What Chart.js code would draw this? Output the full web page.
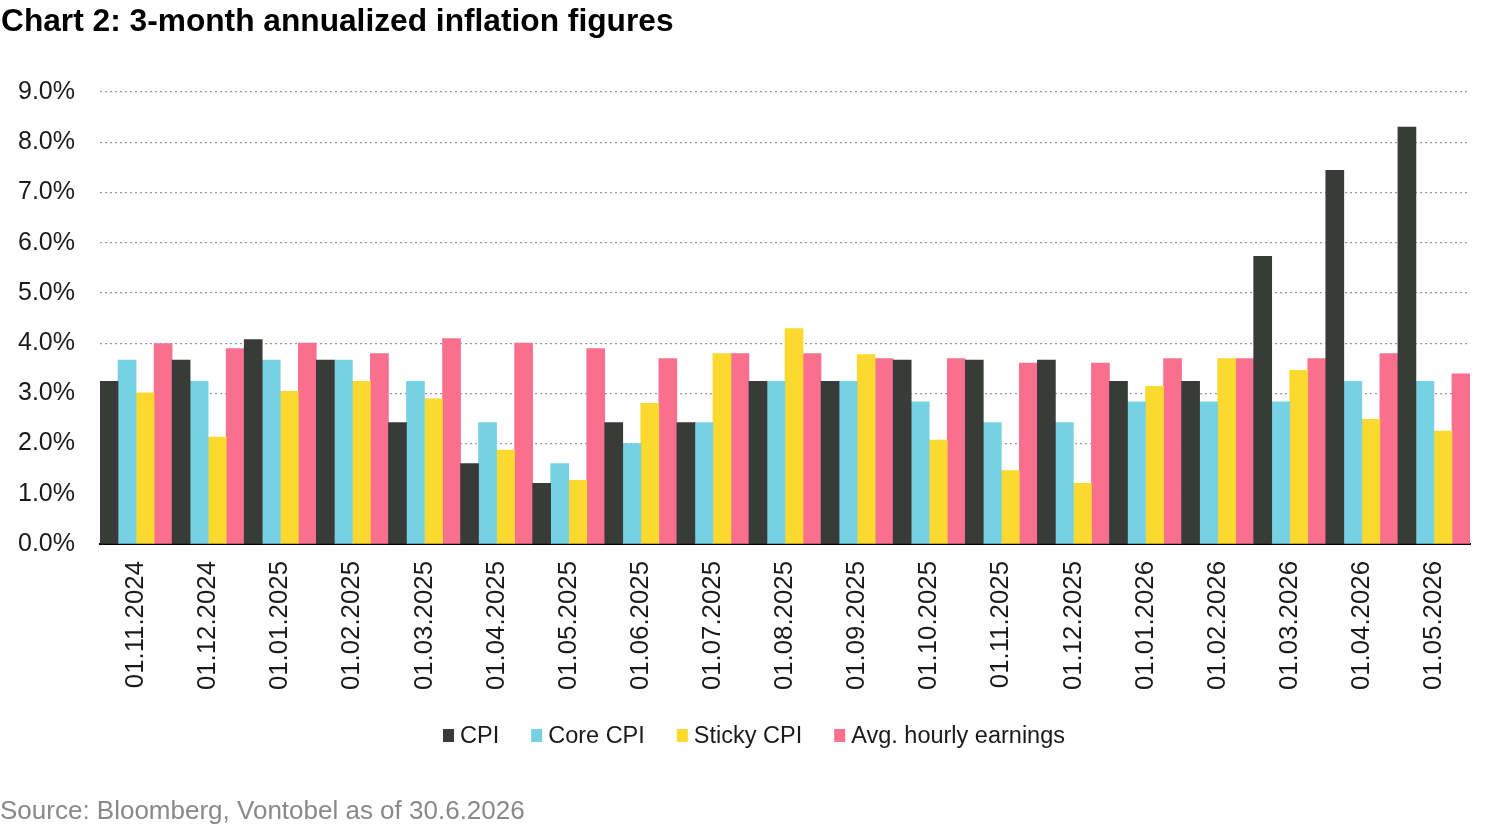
<!DOCTYPE html>
<html>
<head>
<meta charset="utf-8">
<script src="https://cdn.jsdelivr.net/npm/chart.js@4.4.1/dist/chart.umd.min.js"></script>
<style>
  html, body { margin: 0; padding: 0; background: #fff; }
  body { width: 1500px; height: 827px; position: relative; overflow: hidden; font-family: "Liberation Sans", Arial, sans-serif; }
  #title { position: absolute; left: 1px; top: 2px; font-size: 31.7px; font-weight: bold; color: #000; white-space: nowrap; line-height: normal; }
  #source { position: absolute; left: 0px; top: 795px; font-size: 26px; color: #898989; white-space: nowrap; line-height: normal; }
  #wrap { position: absolute; left: 0; top: 0; width: 1500px; height: 827px; }
</style>
</head>
<body>
<div id="wrap"><canvas id="c"></canvas></div>
<div id="title">Chart 2: 3-month annualized inflation figures</div>
<div id="source">Source: Bloomberg, Vontobel as of 30.6.2026</div>
<script>
const categories = ["01.11.2024","01.12.2024","01.01.2025","01.02.2025","01.03.2025","01.04.2025","01.05.2025","01.06.2025","01.07.2025","01.08.2025","01.09.2025","01.10.2025","01.11.2025","01.12.2025","01.01.2026","01.02.2026","01.03.2026","01.04.2026","01.05.2026"];
const cpi      = [3.24, 3.66, 4.07, 3.66, 2.42, 1.60, 1.21, 2.42, 2.42, 3.24, 3.24, 3.66, 3.66, 3.66, 3.24, 3.24, 5.73, 7.44, 8.30];
const coreCpi  = [3.66, 3.24, 3.66, 3.66, 3.24, 2.42, 1.60, 2.00, 2.42, 3.24, 3.24, 2.83, 2.42, 2.42, 2.83, 2.83, 2.83, 3.24, 3.24];
const stickyCpi= [3.01, 2.13, 3.04, 3.24, 2.89, 1.87, 1.27, 2.80, 3.79, 4.29, 3.77, 2.07, 1.46, 1.21, 3.14, 3.69, 3.46, 2.48, 2.25];
const avgHourly= [3.99, 3.89, 4.00, 3.79, 4.09, 4.00, 3.89, 3.69, 3.79, 3.79, 3.69, 3.69, 3.60, 3.60, 3.69, 3.69, 3.69, 3.79, 3.39];
const yTicks = [0,1,2,3,4,5,6,7,8,9];

const seriesNames = ["CPI","Core CPI","Sticky CPI","Avg. hourly earnings"];
const colors = ["#393b38","#77d1e4","#fcd92e","#f9708f"];

const FONT = "'Liberation Sans', Arial, sans-serif";

const customLegend = {
  id: 'customLegend',
  afterDraw(chart) {
    const ctx = chart.ctx;
    ctx.save();
    ctx.font = "23.5px " + FONT;
    ctx.textBaseline = 'middle';
    ctx.textAlign = 'left';
    const box = 11, boxH = 13, gap = 6, sep = 32;
    const items = chart.data.datasets.map(d => ({ text: d.label, color: d.backgroundColor, w: ctx.measureText(d.label).width }));
    const total = items.reduce((s, it) => s + box + gap + it.w, 0) + sep * (items.length - 1);
    let x = chart.width / 2 + 4 - total / 2;
    const yc = 735.5;
    items.forEach(it => {
      ctx.fillStyle = it.color;
      ctx.fillRect(x, yc - boxH / 2, box, boxH);
      ctx.fillStyle = '#1a1a1a';
      ctx.fillText(it.text, x + box + gap, yc + 1);
      x += box + gap + it.w + sep;
    });
    ctx.restore();
  }
};

const ctx = document.getElementById('c');
new Chart(ctx, {
  type: 'bar',
  data: {
    labels: categories,
    datasets: [cpi, coreCpi, stickyCpi, avgHourly].map((d,i) => ({
      label: seriesNames[i],
      data: d,
      backgroundColor: colors[i],
      borderWidth: 0,
      barPercentage: 1.0,
      categoryPercentage: 1.0
    }))
  },
  plugins: [customLegend],
  options: {
    responsive: true,
    maintainAspectRatio: false,
    animation: false,
    layout: { padding: { left: 0, right: 30, top: 92, bottom: 113 } },
    plugins: {
      legend: { display: false },
      tooltip: { enabled: false }
    },
    scales: {
      x: {
        grid: { display: false, drawTicks: false },
        border: { display: true, color: '#000', width: 2 },
        ticks: {
          minRotation: 90, maxRotation: 90,
          font: { family: FONT, size: 25.8 },
          color: '#1a1a1a',
          padding: 17
        },
        afterFit: (s) => { s.height = 170; }
      },
      y: {
        min: 0, max: 9,
        afterBuildTicks: (s) => { s.ticks = yTicks.map(v => ({ value: v })); },
        grid: { color: '#9a9a9a', lineWidth: 1.2, drawTicks: false },
        border: { display: false, dash: [2, 3] },
        ticks: {
          font: { family: FONT, size: 25 },
          color: '#1a1a1a',
          padding: 25,
          callback: (v) => Number(v).toFixed(1) + '%'
        },
        afterFit: (s) => { s.width = 100; }
      }
    }
  }
});
</script>
</body>
</html>
